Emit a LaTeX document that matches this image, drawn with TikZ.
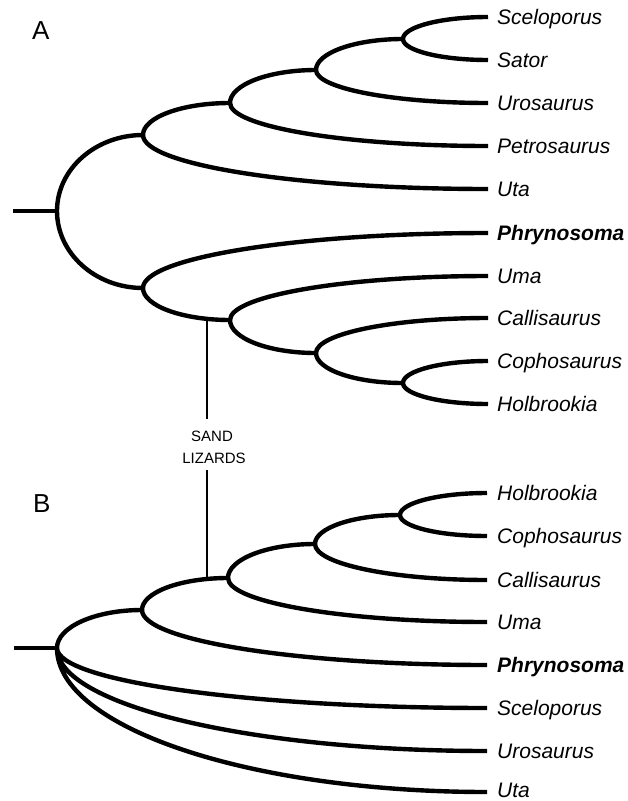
\documentclass[tikz,border=0pt]{standalone}
\usepackage{fontspec}
\setmainfont{Liberation Sans}
\usetikzlibrary{calc}
\begin{document}
\begin{tikzpicture}[x=1pt,y=-1pt,
  br/.style={to path={.. controls ($(\tikztostart)!0.552!(\tikztostart|-\tikztotarget)$) and ($(\tikztotarget)!0.552!(\tikztostart|-\tikztotarget)$) .. (\tikztotarget)}},
  tree/.style={line width=4.4pt, line cap=butt},
  thin/.style={line width=1.3pt},
  leaf/.style={anchor=base west, inner sep=0pt, font=\fontsize{21}{21}\selectfont\itshape},
  bleaf/.style={leaf, font=\fontsize{21}{21}\selectfont\bfseries\itshape},
  panel/.style={anchor=base west, inner sep=0pt, font=\fontsize{26}{26}\selectfont},
  small/.style={anchor=base, inner sep=0pt, font=\fontsize{15}{15}\selectfont}]
\useasboundingbox (0,0) rectangle (628,801);

% ---------------- Tree A ----------------
\coordinate (sA) at (13,211);
\coordinate (rA) at (57,211);
\coordinate (a1) at (143,135);
\coordinate (a2) at (230,103);
\coordinate (a3) at (316,70);
\coordinate (a4) at (403,39);
\coordinate (a5) at (143,288);
\coordinate (a6) at (230,320);
\coordinate (a7) at (316,353);
\coordinate (a8) at (403,383);
\coordinate (tA1) at (488,17);
\coordinate (tA2) at (488,60);
\coordinate (tA3) at (488,103);
\coordinate (tA4) at (488,146);
\coordinate (tA5) at (488,189);
\coordinate (tA6) at (488,233);
\coordinate (tA7) at (488,276);
\coordinate (tA8) at (488,318);
\coordinate (tA9) at (488,361);
\coordinate (tA10) at (488,404);

\draw[tree] (sA) -- (rA);
\draw[tree] (rA) to[br] (a1) (rA) to[br] (a5);
\draw[tree] (a1) to[br] (a2) (a1) to[br] (tA5);
\draw[tree] (a2) to[br] (a3) (a2) to[br] (tA4);
\draw[tree] (a3) to[br] (a4) (a3) to[br] (tA3);
\draw[tree] (a4) to[br] (tA1) (a4) to[br] (tA2);
\draw[tree] (a5) to[br] (tA6) (a5) to[br] (a6);
\draw[tree] (a6) to[br] (tA7) (a6) to[br] (a7);
\draw[tree] (a7) to[br] (tA8) (a7) to[br] (a8);
\draw[tree] (a8) to[br] (tA9) (a8) to[br] (tA10);

\node[leaf] (lA1) at (497,24) {Sceloporus};
\node[leaf] (lA2) at (497,67) {Sator};
\node[leaf] (lA3) at (497,110) {Urosaurus};
\node[leaf] (lA4) at (497,153) {Petrosaurus};
\node[leaf] (lA5) at (497,196) {Uta};
\node[bleaf] (lA6) at (497,240) {Phrynosoma};
\node[leaf] (lA7) at (497,283) {Uma};
\node[leaf] (lA8) at (497,325) {Callisaurus};
\node[leaf] (lA9) at (497,368) {Cophosaurus};
\node[leaf] (lA10) at (497,411) {Holbrookia};

\node[panel] (pA) at (32,39) {A};

% ---------------- Sand lizards ----------------
\coordinate (s1) at (207,318);
\coordinate (s2) at (207,419);
\coordinate (s3) at (207,470);
\coordinate (s4) at (207,580);
\draw[thin] (s1) -- (s2);
\draw[thin] (s3) -- (s4);
\node[small] (sl1) at (212,441) {SAND};
\node[small] (sl2) at (214,463) {LIZARDS};

% ---------------- Tree B ----------------
\coordinate (sB) at (14,648);
\coordinate (rB) at (57,648);
\coordinate (b1) at (142,610);
\coordinate (b2) at (228,578);
\coordinate (b3) at (315,544);
\coordinate (b4) at (400,515);
\coordinate (tB1) at (487,493);
\coordinate (tB2) at (487,536);
\coordinate (tB3) at (487,580);
\coordinate (tB4) at (487,622);
\coordinate (tB5) at (487,665);
\coordinate (tB6) at (487,708);
\coordinate (tB7) at (487,751);
\coordinate (tB8) at (487,792);

\draw[tree] (sB) -- (rB);
\draw[tree] (rB) to[br] (b1) (rB) to[br] (tB6) (rB) to[br] (tB7) (rB) to[br] (tB8);
\draw[tree] (b1) to[br] (b2) (b1) to[br] (tB5);
\draw[tree] (b2) to[br] (b3) (b2) to[br] (tB4);
\draw[tree] (b3) to[br] (b4) (b3) to[br] (tB3);
\draw[tree] (b4) to[br] (tB1) (b4) to[br] (tB2);

\node[leaf] (lB1) at (497,500) {Holbrookia};
\node[leaf] (lB2) at (497,543) {Cophosaurus};
\node[leaf] (lB3) at (497,587) {Callisaurus};
\node[leaf] (lB4) at (497,629) {Uma};
\node[bleaf] (lB5) at (497,672) {Phrynosoma};
\node[leaf] (lB6) at (497,715) {Sceloporus};
\node[leaf] (lB7) at (497,758) {Urosaurus};
\node[leaf] (lB8) at (497,797) {Uta};

\node[panel] (pB) at (33,512) {B};
\end{tikzpicture}
\end{document}
